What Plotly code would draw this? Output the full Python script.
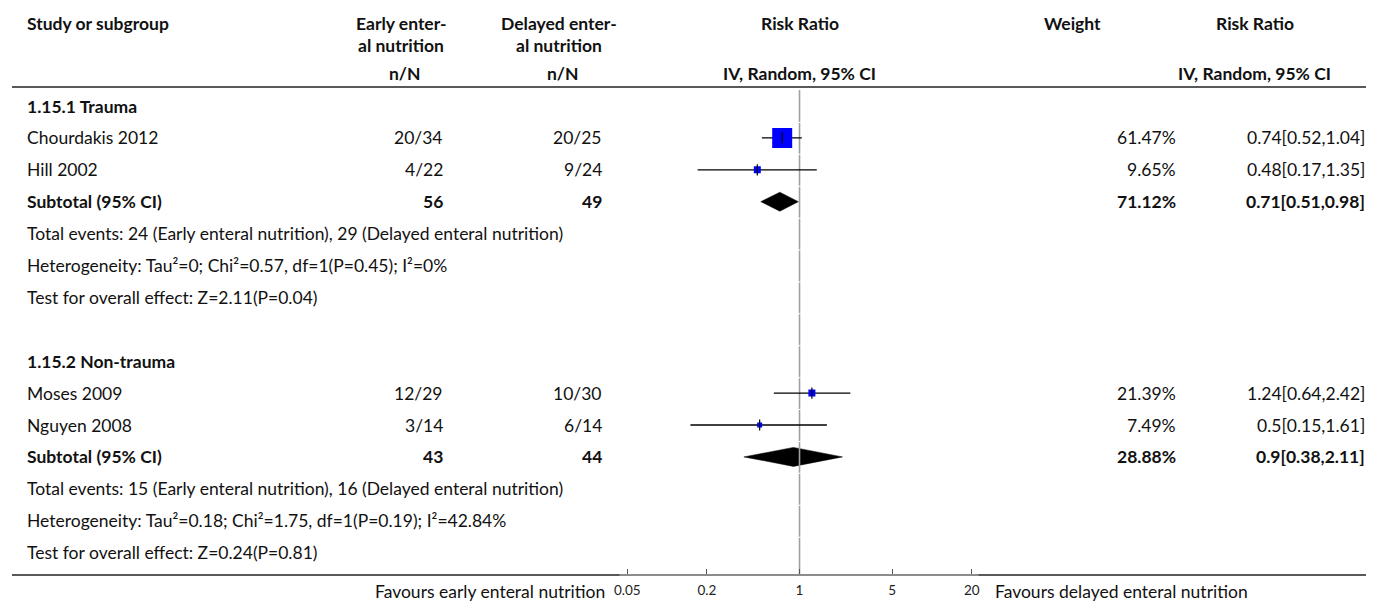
import math
import plotly.graph_objects as go

# ---- data -------------------------------------------------------------
studies = ["Chourdakis 2012", "Hill 2002", "Moses 2009", "Nguyen 2008"]
study_group = [0, 0, 1, 1]
early_nN = ["20/34", "4/22", "12/29", "3/14"]
delayed_nN = ["20/25", "9/24", "10/30", "6/14"]
study_rr = [0.74, 0.48, 1.24, 0.5]
study_lo = [0.52, 0.17, 0.64, 0.15]
study_hi = [1.04, 1.35, 2.42, 1.61]
study_weight = [61.47, 9.65, 21.39, 7.49]

group_titles = ["1.15.1 Trauma", "1.15.2 Non-trauma"]
sub_early_N = [56, 43]
sub_delayed_N = [49, 44]
sub_rr = [0.71, 0.9]
sub_lo = [0.51, 0.38]
sub_hi = [0.98, 2.11]
sub_weight = [71.12, 28.88]
events_early = [24, 15]
events_delayed = [29, 16]
heterogeneity = [
    "Heterogeneity: Tau\u00b2=0; Chi\u00b2=0.57, df=1(P=0.45); I\u00b2=0%",
    "Heterogeneity: Tau\u00b2=0.18; Chi\u00b2=1.75, df=1(P=0.19); I\u00b2=42.84%",
]
overall_test = [
    "Test for overall effect: Z=2.11(P=0.04)",
    "Test for overall effect: Z=0.24(P=0.81)",
]
axis_ticks = [0.05, 0.2, 1, 5, 20]
axis_ticktext = ["0.05", "0.2", "1", "5", "20"]

# ---- style / layout ---------------------------------------------------
W, H = 1375, 603
FONT = "Source Sans Pro, Lato, sans-serif"
FS = 17.5
TXT = "#111111"
box_px = [20, 7, 7, 5]          # weight box side per study
ROW0, PITCH = 106, 31.9          # first table row centre and row pitch
HEAD_LINE_Y, AXIS_Y = 87, 575
X_STUDY, X_E, X_D, X_W, X_RR = 21, 441, 601, 1177, 1367
C_E, C_D, C_W, C_RR = 398, 556, 1072, 1255   # header column centres
FOREST_L, FOREST_R = 617, 978    # pixel extent of the log axis
PX_PER_DEC, X_ONE = 133.0, 798.0


def fmt(v):
    return ("%.2f" % v).rstrip("0").rstrip(".")


def ci_text(r, lo, hi):
    return "%s[%s,%s]" % (fmt(r), fmt(lo), fmt(hi))


def row_y(k):
    return ROW0 + PITCH * k


# table rows: groups of 7 lines with one empty line between them
group_start = [0, 8]

fig = go.Figure()
ann = []


def text(x, y, s, anchor="left", bold=False, size=FS, color=TXT):
    ann.append(dict(
        x=x, y=y, xref="x", yref="y", text=("<b>%s</b>" % s) if bold else s,
        showarrow=False, xanchor=anchor, yanchor="middle", borderpad=0,
        font=dict(family=FONT, size=size, color=color),
    ))


# header
text(X_STUDY, 23, "Study or subgroup", bold=True)
text(C_E, 23, "Early enter-", "center", bold=True)
text(C_E, 45, "al nutrition", "center", bold=True)
text(C_D, 23, "Delayed enter-", "center", bold=True)
text(C_D, 45, "al nutrition", "center", bold=True)
text(C_E + 4, 73, "n/N", "center", bold=True)
text(C_D + 4, 73, "n/N", "center", bold=True)
text(X_ONE, 23, "Risk Ratio", "center", bold=True)
text(X_ONE, 73, "IV, Random, 95% CI", "center", bold=True)
text(C_W, 23, "Weight", "center", bold=True)
text(C_RR, 23, "Risk Ratio", "center", bold=True)
text(C_RR, 73, "IV, Random, 95% CI", "center", bold=True)

# invisible anchor trace for the pixel-space subplot
fig.add_trace(go.Scatter(x=[0, W], y=[0, H], mode="markers",
                         marker=dict(opacity=0), hoverinfo="skip",
                         showlegend=False, xaxis="x", yaxis="y"))

study_rows = []
for g in range(2):
    base = group_start[g]
    text(X_STUDY, row_y(base), group_titles[g], bold=True)
    idx = [i for i in range(len(studies)) if study_group[i] == g]
    for j, i in enumerate(idx):
        y = row_y(base + 1 + j)
        study_rows.append(y)
        text(X_STUDY, y, studies[i])
        text(X_E, y, early_nN[i], "right")
        text(X_D, y, delayed_nN[i], "right")
        text(X_W, y, "%.2f%%" % study_weight[i], "right")
        text(X_RR, y, ci_text(study_rr[i], study_lo[i], study_hi[i]), "right")
    ys = row_y(base + 1 + len(idx))
    text(X_STUDY, ys, "Subtotal (95% CI)", bold=True)
    text(X_E, ys, str(sub_early_N[g]), "right", bold=True)
    text(X_D, ys, str(sub_delayed_N[g]), "right", bold=True)
    text(X_W, ys, "%.2f%%" % sub_weight[g], "right", bold=True)
    text(X_RR, ys, ci_text(sub_rr[g], sub_lo[g], sub_hi[g]), "right", bold=True)
    text(X_STUDY, row_y(base + 2 + len(idx)),
         "Total events: %d (Early enteral nutrition), %d (Delayed enteral nutrition)"
         % (events_early[g], events_delayed[g]))
    text(X_STUDY, row_y(base + 3 + len(idx)), heterogeneity[g])
    text(X_STUDY, row_y(base + 4 + len(idx)), overall_test[g])

    # pooled diamond
    half = 9.5
    fig.add_trace(go.Scatter(
        x=[sub_lo[g], sub_rr[g], sub_hi[g], sub_rr[g], sub_lo[g]],
        y=[ys, ys - half, ys, ys + half, ys],
        mode="lines", fill="toself", fillcolor="black",
        line=dict(color="black", width=0.5), hoverinfo="skip",
        showlegend=False, xaxis="x2", yaxis="y"))

# footer
text(604, 591, "Favours early enteral nutrition", "right")
text(993, 591, "Favours delayed enteral nutrition", "left")

# line of no effect, broken at row boundaries
vx, vy = [], []
top = ROW0 - PITCH / 2
n_rows = 15
for k in range(n_rows):
    y0 = top + PITCH * k + (1 if k else 0)
    y1 = top + PITCH * (k + 1) if k < n_rows - 1 else AXIS_Y
    vx += [1, 1, None]
    vy += [y0, y1, None]
fig.add_trace(go.Scatter(x=vx, y=vy, mode="lines",
                         line=dict(color="#a0a0a0", width=1.6),
                         hoverinfo="skip", showlegend=False,
                         xaxis="x2", yaxis="y"))

# study confidence intervals
cx, cy = [], []
for i, y in enumerate(study_rows):
    cx += [study_lo[i], study_hi[i], None]
    cy += [y, y, None]
fig.add_trace(go.Scatter(x=cx, y=cy, mode="lines",
                         line=dict(color="black", width=1.3),
                         hoverinfo="skip", showlegend=False,
                         xaxis="x2", yaxis="y"))

# weight boxes
fig.add_trace(go.Scatter(
    x=study_rr, y=study_rows, mode="markers",
    marker=dict(symbol="square", size=box_px, color="#0000ff",
                opacity=1, line=dict(width=0)),
    hoverinfo="skip", showlegend=False, xaxis="x2", yaxis="y"))
# point estimate ticks
fig.add_trace(go.Scatter(
    x=study_rr, y=study_rows, mode="markers",
    marker=dict(symbol="line-ns", size=8, color="black", opacity=1,
                line=dict(width=1.2, color="black")),
    hoverinfo="skip", showlegend=False, xaxis="x2", yaxis="y"))

shapes = [
    dict(type="line", xref="x", yref="y", x0=7, x1=1367,
         y0=HEAD_LINE_Y, y1=HEAD_LINE_Y, line=dict(color="#222222", width=1.6)),
    dict(type="line", xref="x", yref="y", x0=7, x1=FOREST_L,
         y0=AXIS_Y, y1=AXIS_Y, line=dict(color="#222222", width=1.6)),
    dict(type="line", xref="x", yref="y", x0=FOREST_R, x1=1367,
         y0=AXIS_Y, y1=AXIS_Y, line=dict(color="#222222", width=1.6)),
]

lo_log = (FOREST_L - X_ONE) / PX_PER_DEC
hi_log = (FOREST_R - X_ONE) / PX_PER_DEC

fig.update_layout(
    width=W, height=H,
    margin=dict(l=0, r=0, t=0, b=0),
    paper_bgcolor="white", plot_bgcolor="rgba(0,0,0,0)",
    showlegend=False,
    annotations=ann, shapes=shapes,
    xaxis=dict(range=[0, W], domain=[0, 1], visible=False, fixedrange=True),
    yaxis=dict(range=[H, 0], domain=[0, 1], visible=False, fixedrange=True),
    xaxis2=dict(type="log", range=[lo_log, hi_log],
                domain=[FOREST_L / W, FOREST_R / W],
                anchor="free", position=(H - AXIS_Y) / H,
                showline=True, linecolor="#8c8c8c", linewidth=1.6,
                showgrid=False, zeroline=False,
                ticks="inside", ticklen=5, tickcolor="#555555", tickwidth=1,
                tickvals=axis_ticks, ticktext=axis_ticktext,
                ticklabelstandoff=3,
                tickfont=dict(family=FONT, size=13.5, color="#222222"),
                fixedrange=True),
)

fig.write_html("out.html")
